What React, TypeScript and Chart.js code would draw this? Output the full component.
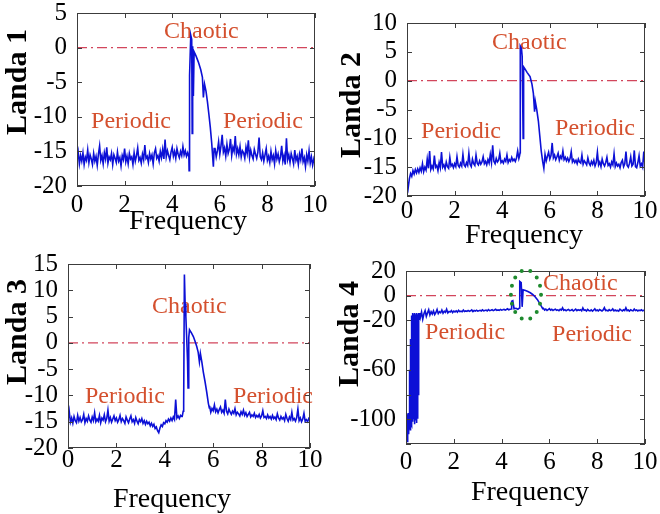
import React, { useEffect, useRef } from 'react';
import { Chart, registerables } from 'chart.js';

Chart.register(...registerables);

// ---------- sampling grids (frequency axis) ----------
const sampleFreqs = (start: number, count: number, step = 0.05) =>
  Array.from({ length: count }, (_, i) => +(start + i * step).toFixed(3));

// ---------- Landa 1 ----------
const landa1LowFreq = sampleFreqs(0, 95);
const landa1Low = [
  -16.2, -15.1, -16.8, -15.6, -16.4, -15.2, -16.9, -15.8, -16.3, -14.8,
  -16.6, -15.5, -16.1, -16.9, -15.3, -16.4, -15.7, -17.0, -15.4, -14.2,
  -16.3, -15.6, -16.8, -15.2, -16.1, -14.4, -16.7, -15.8, -16.2, -15.3,
  -16.9, -15.5, -16.0, -16.6, -15.1, -16.4, -15.9, -17.1, -15.6, -16.2,
  -14.6, -16.5, -15.7, -16.8, -15.3, -16.1, -15.8, -16.9, -15.2, -16.4,
  -15.6, -14.5, -16.3, -15.9, -16.7, -15.4, -16.2, -14.1, -16.0, -15.7,
  -16.6, -15.3, -16.1, -15.5, -16.8, -15.2, -14.6, -16.0, -15.6, -16.4,
  -15.0, -15.9, -14.7, -16.1, -13.3, -15.8, -14.9, -15.6, -16.2, -15.1,
  -14.4, -15.7, -15.0, -16.0, -14.6, -15.4, -15.9, -15.0, -15.6, -14.3,
  -15.5, -14.9, -15.7, -15.2, -15.8,
];
const landa1PeakFreq = [4.71, 4.73, 4.78, 4.82, 4.84, 4.86, 4.89, 4.92, 5.0, 5.1, 5.2, 5.27, 5.31, 5.36, 5.42, 5.48, 5.54, 5.6, 5.66, 5.73, 5.76];
const landa1Peak = [-17.8, -4.0, 1.8, 1.2, -12.4, 0.2, -7.0, -0.6, -1.2, -2.1, -3.2, -4.3, -7.2, -5.3, -6.3, -7.8, -9.6, -11.5, -13.8, -17.2, -14.6];
const landa1HighFreq = sampleFreqs(5.8, 85);
const landa1High = [
  -14.6, -15.8, -14.9, -13.6, -15.4, -14.2, -12.6, -15.1, -14.5, -15.7,
  -14.0, -15.3, -14.7, -13.2, -15.6, -14.4, -15.0, -12.8, -15.4, -14.6,
  -15.5, -14.3, -15.8, -14.9, -15.2, -16.0, -14.4, -15.3, -13.4, -15.9,
  -14.8, -15.6, -16.1, -14.7, -15.4, -16.0, -15.1, -13.0, -15.8, -16.2,
  -15.2, -16.4, -15.5, -14.6, -16.3, -15.7, -16.6, -15.0, -16.2, -15.6,
  -16.8, -14.9, -16.1, -15.4, -16.5, -15.8, -14.2, -16.4, -15.6, -16.9,
  -13.1, -16.2, -15.5, -16.6, -15.3, -16.0, -16.8, -14.8, -16.3, -15.7,
  -16.9, -15.4, -16.2, -14.6, -16.5, -15.9, -17.2, -15.5, -16.4, -14.9,
  -16.7, -15.8, -17.0, -16.1, -16.8,
];

// ---------- Landa 2 ----------
const landa2LowFreq = sampleFreqs(0, 95);
const landa2Low = [
  -17.2, -18.6, -17.0, -16.1, -16.6, -15.6, -16.2, -15.4, -16.0, -15.3,
  -15.9, -15.1, -15.7, -14.4, -15.8, -15.0, -15.5, -13.6, -15.2, -12.2,
  -15.4, -14.8, -15.3, -13.0, -15.0, -14.7, -15.6, -14.2, -15.1, -12.4,
  -15.0, -14.6, -15.3, -14.1, -14.9, -15.2, -13.3, -14.8, -14.5, -15.1,
  -14.4, -14.9, -13.2, -14.7, -15.0, -14.3, -14.8, -12.8, -14.6, -14.9,
  -14.2, -14.7, -12.6, -14.5, -14.9, -13.6, -14.4, -14.7, -12.9, -14.3,
  -14.6, -13.9, -14.5, -14.1, -13.2, -14.4, -14.0, -14.6, -13.7, -14.3,
  -12.8, -14.2, -11.2, -14.0, -14.4, -13.5, -14.1, -13.8, -12.6, -14.2,
  -13.9, -14.3, -13.6, -14.0, -12.9, -14.2, -13.7, -14.0, -13.3, -13.9,
  -13.6, -14.0, -13.4, -12.2, -13.5,
];
const landa2PeakFreq = [4.72, 4.75, 4.76, 4.81, 4.84, 4.88, 4.9, 4.95, 5.05, 5.17, 5.25, 5.31, 5.36, 5.39, 5.45, 5.52, 5.58, 5.64, 5.7, 5.75];
const landa2Peak = [-13.2, -12.5, 6.0, 5.6, 4.2, -10.0, 2.4, 2.1, 1.4, 0.7, -0.6, -2.2, -5.4, -3.6, -5.0, -7.0, -9.6, -12.2, -14.0, -15.2];
const landa2HighFreq = sampleFreqs(5.8, 85);
const landa2High = [
  -12.8, -13.9, -13.1, -12.4, -13.6, -13.0, -10.8, -13.4, -12.9, -13.7,
  -13.2, -12.6, -13.8, -13.1, -13.5, -12.2, -13.7, -13.3, -13.9, -13.4,
  -14.0, -13.5, -12.3, -14.1, -13.7, -14.2, -13.8, -14.4, -13.6, -14.1,
  -14.3, -12.9, -14.5, -13.9, -14.2, -14.6, -13.4, -14.3, -14.7, -14.0,
  -14.5, -13.8, -14.8, -14.2, -12.4, -14.6, -14.1, -14.9, -13.6, -14.4,
  -14.8, -14.2, -13.3, -14.7, -14.4, -15.0, -14.1, -14.6, -12.7, -14.9,
  -14.3, -14.8, -14.5, -15.1, -14.2, -13.8, -14.9, -14.4, -12.3, -14.7,
  -15.0, -14.3, -13.2, -14.8, -14.5, -12.1, -14.9, -15.1, -14.2, -13.0,
  -14.8, -14.4, -15.0, -12.3, -14.6,
];

// ---------- Landa 3 ----------
const landa3LowFreq = sampleFreqs(0, 95);
const landa3Low = [
  -14.6, -13.0, -15.1, -14.3, -15.3, -14.0, -14.8, -15.2, -13.8, -14.9,
  -14.2, -15.0, -14.6, -13.6, -15.2, -14.4, -14.9, -13.9, -14.7, -15.1,
  -14.1, -14.8, -13.3, -15.0, -14.5, -14.9, -13.8, -15.2, -14.3, -14.7,
  -13.7, -15.0, -14.4, -12.8, -14.9, -14.2, -15.1, -14.5, -13.9, -14.8,
  -14.3, -15.1, -14.6, -13.8, -15.0, -14.4, -14.8, -15.3, -14.1, -14.7,
  -15.2, -14.5, -13.9, -15.0, -14.6, -15.3, -14.2, -14.9, -15.4, -14.6,
  -15.0, -14.4, -15.3, -14.8, -15.5, -14.9, -15.4, -15.1, -15.8, -15.3,
  -15.9, -15.5, -16.3, -16.0, -16.7, -17.1, -16.2, -15.6, -15.9, -15.2,
  -15.4, -14.8, -15.1, -14.5, -14.9, -14.3, -14.8, -14.1, -14.6, -10.8,
  -14.3, -13.9, -14.4, -13.8, -14.0,
];
const landa3PeakFreq = [4.72, 4.76, 4.78, 4.81, 4.84, 4.87, 4.9, 4.94, 4.96, 4.99, 5.02, 5.1, 5.18, 5.25, 5.32, 5.38, 5.43, 5.47, 5.53, 5.59, 5.66, 5.73, 5.8, 5.84];
const landa3Peak = [-14.0, -13.0, -11.5, 13.0, 7.5, 5.0, 1.5, -3.5, -8.6, 1.0, 2.5, 1.9, 1.2, 0.3, -0.7, -1.8, -3.6, -2.0, -3.6, -5.5, -7.3, -9.3, -11.5, -12.4];
const landa3HighFreq = sampleFreqs(5.85, 84);
const landa3High = [
  -12.0, -13.2, -12.5, -12.9, -11.8, -13.1, -12.6, -13.3, -12.7, -12.2,
  -13.2, -12.8, -13.4, -10.8, -13.0, -13.5, -12.6, -13.2, -13.6, -13.0,
  -13.4, -12.5, -13.7, -13.2, -13.5, -13.9, -13.1, -13.6, -12.8, -13.8,
  -13.3, -14.0, -13.6, -13.2, -14.1, -13.7, -14.0, -13.4, -14.2, -13.8,
  -14.1, -13.6, -14.3, -13.9, -12.9, -14.2, -14.0, -14.4, -13.7, -14.3,
  -14.0, -14.5, -13.8, -14.4, -14.1, -14.6, -13.5, -14.3, -14.7, -14.0,
  -14.5, -14.2, -14.8, -13.6, -14.4, -14.9, -14.1, -14.6, -13.2, -14.7,
  -14.4, -14.9, -14.2, -12.6, -14.8, -14.3, -15.0, -14.5, -13.4, -14.9,
  -14.6, -15.0, -14.4, -14.8,
];

// ---------- Landa 4 ----------
const landa4StartFreq = sampleFreqs(0, 59, 0.01);
const landa4Start = [
  -96, -108, -100, -113, -97, -118, -104, -99, -110, -95,
  -106, -98, -112, -101, -94, -108, -60, -103, -97, -109,
  -35, -104, -22, -99, -16, -105, -18, -96, -14, -102,
  -17, -100, -15, -98, -20, -104, -14, -95, -16, -101,
  -15, -97, -18, -103, -14, -92, -16, -99, -17, -88,
  -15, -80, -16, -45, -14, -19, -15, -18, -14,
];
const landa4TrendFreq = sampleFreqs(0.6, 76);
const landa4Trend = [
  -17.5, -13.2, -19.0, -14.6, -12.1, -16.8, -13.9, -11.4, -15.6, -13.0,
  -14.8, -12.3, -15.2, -13.6, -11.2, -14.5, -12.9, -13.8, -11.6, -14.1,
  -12.6, -13.5, -10.9, -13.9, -12.7, -13.2, -12.0, -13.6, -12.4, -13.1,
  -12.2, -13.3, -11.8, -12.9, -12.5, -13.0, -11.6, -12.8, -12.3, -12.7,
  -11.9, -12.6, -12.2, -11.5, -12.8, -12.0, -12.4, -11.7, -12.5, -12.1,
  -11.8, -12.3, -11.4, -12.2, -11.9, -11.6, -12.3, -11.2, -12.0, -11.7,
  -11.3, -12.1, -11.6, -11.0, -11.9, -11.5, -11.8, -11.1, -11.7, -11.4,
  -11.0, -11.6, -11.2, -10.6, -11.4, -11.0,
];
const landa4PeakFreq = [4.4, 4.42, 4.47, 4.52, 4.6, 4.68, 4.74, 4.76, 4.82, 4.86, 4.9, 5.0, 5.1, 5.2, 5.3, 5.4, 5.5, 5.58, 5.66, 5.72];
const landa4Peak = [-10.8, -4.5, -4.0, -10.5, -10.2, -11.0, -10.0, 11.5, 10.5, -9.0, 4.8, 4.2, 3.4, 2.4, 1.0, -0.8, -3.2, -5.8, -8.5, -10.5];
const landa4HighFreq = sampleFreqs(5.75, 86);
const landa4High = [
  -10.2, -11.6, -10.8, -11.9, -11.2, -10.5, -11.7, -11.0, -12.0, -11.3,
  -10.9, -11.8, -11.4, -12.1, -11.0, -11.6, -9.8, -11.9, -11.3, -12.2,
  -11.5, -11.1, -12.0, -11.7, -11.2, -12.3, -11.6, -10.8, -12.1, -11.4,
  -11.9, -11.3, -12.2, -9.9, -11.8, -11.5, -12.4, -11.1, -11.9, -12.2,
  -11.4, -12.5, -11.7, -10.6, -12.1, -11.6, -12.3, -11.2, -11.8, -12.4,
  -11.5, -9.6, -12.0, -11.7, -12.4, -11.3, -12.1, -11.8, -10.7, -12.3,
  -11.6, -12.2, -11.9, -12.5, -10.9, -11.7, -12.3, -11.4, -12.0, -9.8,
  -12.1, -11.6, -12.4, -11.3, -11.9, -12.2, -10.8, -12.0, -11.5, -12.3,
  -11.7, -12.1, -11.4, -12.2, -11.8, -12.0,
];
const landa4TickLabels = [20, 0, -20, -60, -100];

// ---------- shared ----------
const freqTicks = { min: 0, max: 10, step: 2 };
const zeroLine = [{ x: 0, y: 0 }, { x: 10, y: 0 }];
const chaoticLabel = 'Chaotic';
const periodicLabel = 'Periodic';

const zip = (fs: number[][], vs: number[][]) => {
  const out: { x: number; y: number }[] = [];
  fs.forEach((f, k) => f.forEach((x, i) => out.push({ x, y: vs[k][i] })));
  return out;
};

type Panel = {
  key: string;
  title: string;
  left: number; top: number; width: number; height: number;
  plot: { left: number; top: number; right: number; bottom: number };
  yMin: number; yMax: number; yStep: number;
  yLabels?: number[];
  points: { x: number; y: number }[];
  notes: { text: string; x: number; y: number }[];
  yTitle: { x: number; y: number };
  xTitle: { x: number; y: number };
  xPad: number;
  circle?: { x: number; y: number; rx: number; ry: number };
};

const panels: Panel[] = [
  {
    key: 'p1', title: 'Landa 1', left: 0, top: 0, width: 330, height: 250,
    plot: { left: 77, top: 13, right: 315, bottom: 186 },
    yMin: -20, yMax: 5, yStep: 5,
    points: zip([landa1LowFreq, landa1PeakFreq, landa1HighFreq], [landa1Low, landa1Peak, landa1High]),
    notes: [
      { text: chaoticLabel, x: 3.66, y: 1.4 },
      { text: periodicLabel, x: 0.59, y: -11.6 },
      { text: periodicLabel, x: 6.13, y: -11.6 },
    ],
    yTitle: { x: 18, y: 82 }, xTitle: { x: 188, y: 229 }, xPad: -1,
  },
  {
    key: 'p2', title: 'Landa 2', left: 330, top: 0, width: 330, height: 250,
    plot: { left: 77, top: 23, right: 315, bottom: 196 },
    yMin: -20, yMax: 10, yStep: 5,
    points: zip([landa2LowFreq, landa2PeakFreq, landa2HighFreq], [landa2Low, landa2Peak, landa2High]),
    notes: [
      { text: chaoticLabel, x: 3.57, y: 5.5 },
      { text: periodicLabel, x: 0.59, y: -9.9 },
      { text: periodicLabel, x: 6.22, y: -9.4 },
    ],
    yTitle: { x: 22, y: 105 }, xTitle: { x: 194, y: 243 }, xPad: -5,
  },
  {
    key: 'p3', title: 'Landa 3', left: 0, top: 250, width: 330, height: 264,
    plot: { left: 68, top: 14, right: 310, bottom: 198 },
    yMin: -20, yMax: 15, yStep: 5,
    points: zip([landa3LowFreq, landa3PeakFreq, landa3HighFreq], [landa3Low, landa3Peak, landa3High]),
    notes: [
      { text: chaoticLabel, x: 3.47, y: 5.7 },
      { text: periodicLabel, x: 0.7, y: -11.4 },
      { text: periodicLabel, x: 6.82, y: -11.4 },
    ],
    yTitle: { x: 18, y: 82 }, xTitle: { x: 172, y: 257 }, xPad: -8,
  },
  {
    key: 'p4', title: 'Landa 4', left: 330, top: 250, width: 330, height: 264,
    plot: { left: 76, top: 21, right: 315, bottom: 194 },
    yMin: -120, yMax: 20, yStep: 20, yLabels: landa4TickLabels,
    points: zip([landa4StartFreq, landa4TrendFreq, landa4PeakFreq, landa4HighFreq], [landa4Start, landa4Trend, landa4Peak, landa4High]),
    notes: [
      { text: chaoticLabel, x: 5.73, y: 4.8 },
      { text: periodicLabel, x: 0.8, y: -35.2 },
      { text: periodicLabel, x: 6.11, y: -36.8 },
    ],
    yTitle: { x: 20, y: 84 }, xTitle: { x: 200, y: 250 }, xPad: -2,
    circle: { x: 5.02, y: 0.8, rx: 0.63, ry: 20 },
  },
];

const SERIF = '"Liberation Serif", "Times New Roman", serif';

const decorPlugin = {
  id: 'decor',
  beforeDatasetsDraw(chart: any) {
    const p: Panel = chart.options.plugins.decor.panel;
    const { ctx, scales } = chart;
    ctx.save();
    ctx.fillStyle = '#d4502e';
    ctx.font = `24px ${SERIF}`;
    ctx.textAlign = 'left';
    ctx.textBaseline = 'alphabetic';
    p.notes.forEach((n) => {
      ctx.fillText(n.text, scales.x.getPixelForValue(n.x), scales.y.getPixelForValue(n.y));
    });
    ctx.restore();
  },
  afterDraw(chart: any) {
    const p: Panel = chart.options.plugins.decor.panel;
    const { ctx, chartArea: a, scales } = chart;
    const xs = scales.x;
    const ys = scales.y;
    ctx.save();
    // box
    ctx.strokeStyle = '#3c3c3c';
    ctx.lineWidth = 1;
    ctx.strokeRect(a.left + 0.5, a.top + 0.5, a.right - a.left - 1, a.bottom - a.top - 1);
    // inner tick marks
    ctx.beginPath();
    xs.ticks.forEach((t: any) => {
      const px = Math.round(xs.getPixelForValue(t.value)) + 0.5;
      ctx.moveTo(px, a.bottom); ctx.lineTo(px, a.bottom - 5);
      ctx.moveTo(px, a.top); ctx.lineTo(px, a.top + 5);
    });
    ys.ticks.forEach((t: any) => {
      const py = Math.round(ys.getPixelForValue(t.value)) + 0.5;
      ctx.moveTo(a.left, py); ctx.lineTo(a.left + 5, py);
      ctx.moveTo(a.right, py); ctx.lineTo(a.right - 5, py);
    });
    ctx.stroke();
    // dotted ellipse
    if (p.circle) {
      const cx = xs.getPixelForValue(p.circle.x);
      const cy = ys.getPixelForValue(p.circle.y);
      const rx = Math.abs(xs.getPixelForValue(p.circle.x + p.circle.rx) - cx);
      const ry = Math.abs(ys.getPixelForValue(p.circle.y + p.circle.ry) - cy);
      ctx.beginPath();
      ctx.ellipse(cx, cy, rx, ry, 0, 0, Math.PI * 2);
      ctx.strokeStyle = '#1e8a2e';
      ctx.lineWidth = 4;
      ctx.lineCap = 'round';
      ctx.setLineDash([0, 9]);
      ctx.stroke();
      ctx.setLineDash([]);
    }
    // axis titles
    ctx.fillStyle = '#000';
    ctx.font = `28px ${SERIF}`;
    ctx.textAlign = 'center';
    ctx.textBaseline = 'alphabetic';
    ctx.fillText('Frequency', p.xTitle.x, p.xTitle.y);
    ctx.translate(p.yTitle.x, p.yTitle.y);
    ctx.rotate(-Math.PI / 2);
    ctx.font = `bold 30px ${SERIF}`;
    ctx.textBaseline = 'middle';
    ctx.fillText(p.title, 0, 0);
    ctx.restore();
  },
};

function PanelChart({ p }: { p: Panel }) {
  const ref = useRef<HTMLCanvasElement | null>(null);
  useEffect(() => {
    if (!ref.current) return;
    const tickFont = { family: SERIF, size: 25, lineHeight: 1 };
    const chart = new Chart(ref.current, {
      type: 'line',
      data: {
        datasets: [
          {
            data: p.points,
            borderColor: '#0c10d6',
            borderWidth: 1.6,
            pointRadius: 0,
            tension: 0,
          },
          {
            data: zeroLine,
            borderColor: '#d2465c',
            borderWidth: 1.3,
            borderDash: [10, 4, 2, 4],
            pointRadius: 0,
          },
        ],
      },
      options: {
        responsive: false,
        animation: false,
        events: [],
        layout: {
          padding: {
            left: 0,
            top: p.plot.top,
            right: p.width - p.plot.right,
            bottom: 0,
          },
        },
        plugins: {
          legend: { display: false },
          tooltip: { enabled: false },
          decor: { panel: p },
        } as any,
        scales: {
          x: {
            type: 'linear',
            min: freqTicks.min,
            max: freqTicks.max,
            grid: { display: false },
            border: { display: false },
            ticks: {
              stepSize: freqTicks.step,
              autoSkip: false,
              maxRotation: 0,
              color: '#000',
              font: tickFont,
              padding: p.xPad,
            },
            afterFit: (s: any) => {
              s.height = p.height - p.plot.bottom;
              s.paddingLeft = 0;
              s.paddingRight = 0;
            },
          },
          y: {
            type: 'linear',
            min: p.yMin,
            max: p.yMax,
            grid: { display: false },
            border: { display: false },
            ticks: {
              stepSize: p.yStep,
              autoSkip: false,
              color: '#000',
              font: tickFont,
              padding: 2,
              callback: (v: any) =>
                p.yLabels ? (p.yLabels.includes(Number(v)) ? String(v) : '') : String(v),
            },
            afterFit: (s: any) => {
              s.width = p.plot.left;
              s.paddingTop = 0;
              s.paddingBottom = 0;
            },
          },
        },
      },
      plugins: [decorPlugin as any],
    });
    return () => chart.destroy();
  }, [p]);
  return (
    <canvas
      ref={ref}
      width={p.width}
      height={p.height}
      style={{ position: 'absolute', left: p.left, top: p.top, width: p.width, height: p.height }}
    />
  );
}

export default function App() {
  return (
    <div style={{ position: 'fixed', left: 0, top: 0, width: 660, height: 514, background: '#fff', overflow: 'hidden' }}>
      {panels.map((p) => (
        <PanelChart key={p.key} p={p} />
      ))}
    </div>
  );
}
